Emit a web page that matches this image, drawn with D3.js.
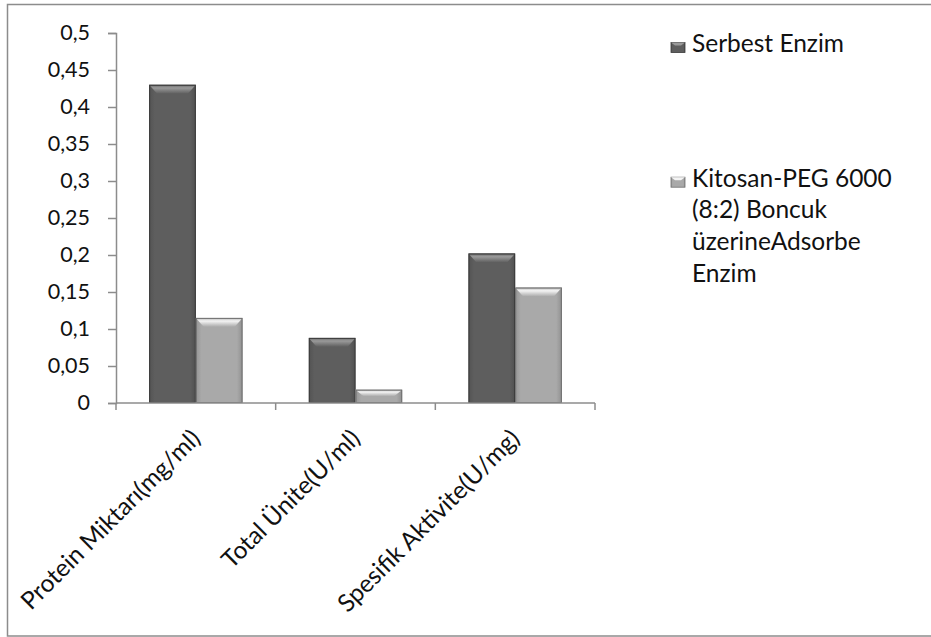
<!DOCTYPE html>
<html>
<head>
<meta charset="utf-8">
<script src="https://cdn.jsdelivr.net/npm/d3@7"></script>
<style>
  html, body { margin: 0; padding: 0; background: #fff; }
  svg { display: block; }
  text { font-family: Lato, "Open Sans", sans-serif; fill: #111; }
</style>
</head>
<body>
<svg id="chart" width="931" height="637"></svg>
<script>
// Category labels along the x axis
const categories = ["Protein Miktarı(mg/ml)", "Total Ünite(U/ml)", "Spesifik Aktivite(U/mg)"];
// Series names (legend) and values per category
const seriesNames = ["Serbest Enzim", "Kitosan-PEG 6000 (8:2) Boncuk üzerineAdsorbe Enzim"];
const serbestValues = [0.43, 0.088, 0.202];
const kitosanValues = [0.115, 0.018, 0.156];
const yTicks = [0, 0.05, 0.1, 0.15, 0.2, 0.25, 0.3, 0.35, 0.4, 0.45, 0.5];
const legendLines = [["Serbest Enzim"], ["Kitosan-PEG 6000", "(8:2) Boncuk", "üzerineAdsorbe", "Enzim"]];

const svg = d3.select("#chart");

// outer frame
svg.append("rect").attr("x", 7.5).attr("y", 4.5).attr("width", 930).attr("height", 631.5)
  .attr("fill", "none").attr("stroke", "#8c8c8c").attr("stroke-width", 1.5);

const plot = { left: 116, right: 595, top: 33, bottom: 403 };

const x0 = d3.scaleBand().domain(categories).range([plot.left, plot.right]).paddingInner(0.415).paddingOuter(0.2075);
const x1 = d3.scaleBand().domain([0, 1]).range([0, x0.bandwidth()]);
const y = d3.scaleLinear().domain([0, 0.5]).range([plot.bottom, plot.top]);

const fmt = d => String(d).replace(".", ",");

// gradients for the bevelled bars
const defs = svg.append("defs");
const palettes = [
  { base: "#5e5e5e", edge: "#3a3a3a", hiTop: "#9a9a9a", hiBot: "#6a6a6a" },
  { base: "#a9a9a9", edge: "#6f6f6f", hiTop: "#f4f4f4", hiBot: "#b4b4b4" }
];
palettes.forEach((p, i) => {
  const g = defs.append("linearGradient").attr("id", "body" + i).attr("x1", 0).attr("x2", 1).attr("y1", 0).attr("y2", 0);
  g.append("stop").attr("offset", "0%").attr("stop-color", d3.color(p.base).darker(0.35));
  g.append("stop").attr("offset", "12%").attr("stop-color", p.base);
  g.append("stop").attr("offset", "88%").attr("stop-color", p.base);
  g.append("stop").attr("offset", "100%").attr("stop-color", d3.color(p.base).darker(0.45));
  const h = defs.append("linearGradient").attr("id", "bevel" + i).attr("x1", 0).attr("x2", 0).attr("y1", 0).attr("y2", 1);
  h.append("stop").attr("offset", "0%").attr("stop-color", p.hiBot);
  h.append("stop").attr("offset", "35%").attr("stop-color", p.hiTop);
  h.append("stop").attr("offset", "100%").attr("stop-color", p.base);
});

// y axis
const yAxis = d3.axisLeft(y).tickValues(yTicks).tickFormat(fmt).tickSize(8).tickPadding(18);
const gy = svg.append("g").attr("transform", `translate(${plot.left},0)`).call(yAxis);
gy.select(".domain").attr("stroke", "#8c8c8c").attr("stroke-width", 1.5);
gy.selectAll(".tick line").attr("stroke", "#8c8c8c").attr("stroke-width", 1.5);
gy.selectAll(".tick text")
  .attr("font-size", 21.5).attr("font-family", "Lato, sans-serif").attr("fill", "#111");

// bars
const data = categories.map((c, i) => ({ cat: c, vals: [serbestValues[i], kitosanValues[i]] }));
const groups = svg.append("g").selectAll("g").data(data).join("g")
  .attr("transform", d => `translate(${x0(d.cat)},0)`);

groups.each(function(d) {
  const g = d3.select(this);
  d.vals.forEach((v, s) => {
    const bx = x1(s), bw = x1.bandwidth(), by = y(v), bh = y(0) - y(v);
    const p = palettes[s];
    g.append("rect").attr("x", bx).attr("y", by).attr("width", bw).attr("height", bh)
      .attr("fill", `url(#body${s})`);
    const bev = Math.min(9, bh * 0.5);
    const inset = Math.min(8, bw / 4);
    g.append("path")
      .attr("d", `M${bx},${by} L${bx + bw},${by} L${bx + bw - inset},${by + bev} L${bx + inset},${by + bev} Z`)
      .attr("fill", `url(#bevel${s})`);
    g.append("rect").attr("x", bx + 0.5).attr("y", by + 0.5).attr("width", bw - 1).attr("height", bh - 1)
      .attr("fill", "none").attr("stroke", p.edge).attr("stroke-width", 1);
  });
});

// x axis
const xTickPositions = [plot.left].concat(categories.map(c => x0(c) + x0.bandwidth() + x0.step() * x0.paddingInner() / 2));
const gx = svg.append("g");
gx.append("line").attr("x1", plot.left).attr("x2", plot.right).attr("y1", plot.bottom).attr("y2", plot.bottom)
  .attr("stroke", "#8c8c8c").attr("stroke-width", 1.5);
gx.selectAll("line.tk").data(xTickPositions).join("line").attr("class", "tk")
  .attr("x1", d => d).attr("x2", d => d).attr("y1", plot.bottom).attr("y2", plot.bottom + 7)
  .attr("stroke", "#8c8c8c").attr("stroke-width", 1.5);

gx.selectAll("text.cat").data(categories).join("text").attr("class", "cat")
  .attr("transform", c => `translate(${x0(c) + x0.bandwidth() / 2 + 6},${plot.bottom + 37}) rotate(-45)`)
  .attr("text-anchor", "end").attr("font-size", 24.4)
  .text(c => c);

// legend
const legend = svg.append("g");
const legendBase = [52, 186.7];
const lineGap = 31.7;
legendLines.forEach((lines, i) => {
  const p = palettes[i];
  const sy = legendBase[i] - 9.5;
  legend.append("rect").attr("x", 671).attr("y", sy).attr("width", 14).attr("height", 10)
    .attr("fill", `url(#body${i})`).attr("stroke", p.edge).attr("stroke-width", 0.8);
  legend.append("path")
    .attr("d", `M671,${sy} L685,${sy} L681,${sy + 3} L675,${sy + 3} Z`)
    .attr("fill", p.hiTop);
  const t = legend.append("text")
    .attr("x", 692).attr("y", legendBase[i])
    .attr("font-size", 24.5);
  lines.forEach((ln, k) => {
    t.append("tspan").attr("x", 692).attr("dy", k === 0 ? 0 : lineGap).text(ln);
  });
});
</script>
</body>
</html>
